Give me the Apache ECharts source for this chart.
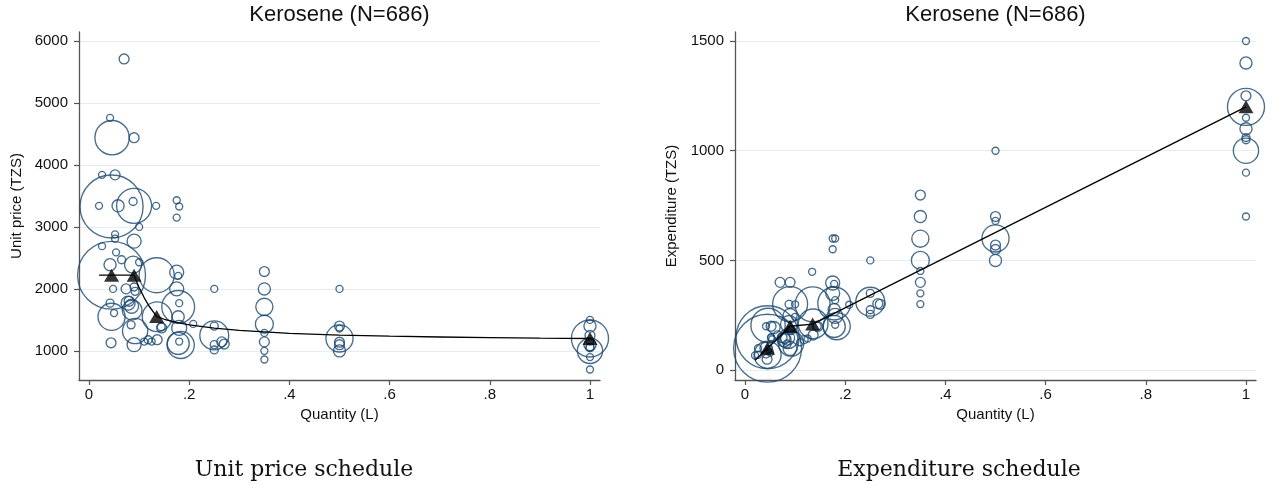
<!DOCTYPE html>
<html>
<head>
<meta charset="utf-8">
<script src="https://cdn.jsdelivr.net/npm/echarts@6/dist/echarts.min.js"></script>
<style>
html,body{margin:0;padding:0;background:#fff;}
#chart{width:1273px;height:486px;}
</style>
</head>
<body>
<div id="chart"></div>
<script>
// ---- data ----
const chartTitle = 'Kerosene (N=686)';
const captions = ['Unit price schedule', 'Expenditure schedule'];
const xTicks = [0, 0.2, 0.4, 0.6, 0.8, 1];
const xTickLabels = ['0', '.2', '.4', '.6', '.8', '1'];
const priceTicks = [1000, 2000, 3000, 4000, 5000, 6000];
const expTicks = [0, 500, 1000, 1500];

// observations: quantity (L), unit price (TZS), expenditure (TZS), frequency weight
const quantity = [
  0.07, 0.042, 0.046, 0.09, 0.026, 0.052, 0.045, 0.09, 0.02, 0.058,
  0.088, 0.134, 0.175, 0.18, 0.175, 0.1, 0.052, 0.052, 0.09, 0.026,
  0.054, 0.045, 0.065, 0.042, 0.088, 0.1, 0.135, 0.175, 0.178, 0.048,
  0.074, 0.09, 0.092, 0.175, 0.25,
  0.35, 0.35, 0.35, 0.35, 0.35, 0.35, 0.35, 0.35,
  0.5, 0.5, 0.5, 0.5, 0.5, 0.5, 0.5,
  1, 1, 1, 1, 1, 1, 1, 1, 1, 1, 1,
  0.045, 0.042, 0.05, 0.044, 0.078, 0.08, 0.086, 0.085, 0.092, 0.09,
  0.084, 0.11, 0.118, 0.125, 0.136, 0.136, 0.144, 0.145,
  0.178, 0.18, 0.178, 0.18, 0.183, 0.178, 0.18, 0.208,
  0.25, 0.25, 0.25, 0.25, 0.265, 0.27
];
const unitPrice = [
  5710, 4760, 4440, 4440, 3840, 3840, 3330, 3340, 3340, 3340,
  3410, 3340, 3430, 3330, 3150, 3000, 2880, 2810, 2770, 2690,
  2590, 2220, 2470, 2390, 2390, 2430, 2220, 2270, 2210, 2000,
  2000, 2030, 1960, 2000, 2000,
  2280, 2000, 1710, 1430, 1290, 1145, 1000, 860,
  2000, 1400, 1360, 1200, 1140, 1100, 1000,
  1500, 1400, 1250, 1200, 1150, 1100, 1060, 1050, 1000, 900, 700,
  1550, 1770, 1610, 1130, 1770, 1800, 1660, 1720, 1320, 1100,
  1420, 1150, 1180, 1150, 1180, 1550, 1390, 1370,
  1710, 1770, 1550, 1370, 1095, 1120, 1150, 1435,
  1250, 1400, 1100, 1015, 1145, 1110
];
const expenditure = [
  400, 200, 204, 400, 100, 200, 150, 301, 67, 194,
  300, 448, 600, 600, 551, 300, 150, 146, 249, 70,
  140, 100, 161, 100, 210, 243, 300, 397, 393, 96,
  148, 183, 180, 350, 500,
  798, 700, 599, 500, 452, 400, 350, 301,
  1000, 700, 680, 600, 570, 550, 500,
  1500, 1400, 1250, 1200, 1150, 1100, 1060, 1050, 1000, 900, 700,
  70, 74, 80, 50, 138, 144, 143, 146, 121, 99,
  119, 127, 139, 144, 160, 211, 200, 199,
  304, 319, 276, 247, 200, 199, 207, 298,
  312, 350, 275, 254, 303, 300
];
const weight = [
  2, 1, 24, 2, 1, 2, 81, 25, 1, 3,
  1.3, 1, 1, 1, 1, 1, 1, 1, 4, 1,
  1, 94, 1.3, 3, 6, 1, 25, 4, 1, 1,
  2, 1.3, 1.3, 4, 1,
  2, 3, 6, 6.6, 1, 2, 1, 1,
  1, 2, 1, 15, 2, 2, 3,
  1, 3, 2, 28, 1, 3, 1.3, 1.3, 13, 1, 1,
  15, 1.3, 1, 2, 4, 2, 8, 4, 13, 4,
  1.3, 1, 1.3, 1, 2, 18, 1.3, 2,
  22, 1, 3, 4.6, 15, 10, 1, 1,
  17, 1.3, 1.3, 1.3, 2, 2
];

// schedules (black lines) and group means (triangles)
const priceLineQ = [0.02, 0.045, 0.09, 0.1, 0.11, 0.12, 0.135, 0.15, 0.175, 0.2, 0.25, 0.3, 0.4, 0.5, 0.6, 0.7, 0.8, 0.9, 1];
const priceLineP = [2222, 2222, 2222, 2020, 1860, 1720, 1556, 1510, 1460, 1420, 1366, 1330, 1283, 1255, 1237, 1224, 1214, 1206, 1200];
const expLineQ = [0.02, 0.045, 0.09, 0.135, 1];
const expLineE = [45, 100, 200, 210, 1200];
const meanQ = [0.045, 0.09, 0.135, 1];
const meanP = [2222, 2222, 1556, 1200];
const meanE = [100, 200, 210, 1200];

// ---- build ----
const navy = '#1a476f';
const axisCol = '#555';
const gridCol = '#e4edf0';
const sans = 'Liberation Sans, Arial, sans-serif';

const zip2 = (a, b) => a.map((v, i) => [v, b[i]]);
const priceObs = quantity.map((q, i) => [q, unitPrice[i], weight[i]]);
const expObs = quantity.map((q, i) => [q, expenditure[i], weight[i]]);

function xAxis(gi) {
  return {
    gridIndex: gi, type: 'value', min: -0.02, max: 1.02,
    name: 'Quantity (L)', nameLocation: 'middle', nameGap: 21,
    nameTextStyle: {fontSize: 15, color: '#111', fontFamily: sans, verticalAlign: 'top'},
    axisLine: {show: true, onZero: false, lineStyle: {color: axisCol, width: 1.3}},
    axisTick: {show: true, length: 5, customValues: xTicks, lineStyle: {color: axisCol, width: 1.2}},
    axisLabel: {customValues: xTicks, fontSize: 15, color: '#111', fontFamily: sans, margin: 7,
      formatter: v => { const k = xTicks.findIndex(t => Math.abs(t - v) < 1e-9); return k >= 0 ? xTickLabels[k] : ''; }},
    splitLine: {show: false}
  };
}
function yAxis(gi, min, max, ticks, name, gap) {
  return {
    gridIndex: gi, type: 'value', min: min, max: max,
    name: name, nameLocation: 'middle', nameGap: gap,
    nameTextStyle: {fontSize: 15, color: '#111', fontFamily: sans},
    axisLine: {show: true, onZero: false, lineStyle: {color: axisCol, width: 1.3}},
    axisTick: {show: true, length: 5, customValues: ticks, lineStyle: {color: axisCol, width: 1.2}},
    axisLabel: {customValues: ticks, fontSize: 15, color: '#111', fontFamily: sans, margin: 11,
      formatter: v => String(Math.round(v))},
    splitLine: {show: false}
  };
}
function gridLineSeries(gi, ticks) {
  return {
    type: 'scatter', xAxisIndex: gi, yAxisIndex: gi, data: [], z: 0, silent: true,
    markLine: {
      silent: true, symbol: 'none', label: {show: false}, z: 0, animation: false,
      lineStyle: {color: gridCol, width: 1.2, type: 'solid'},
      data: ticks.map(t => ({yAxis: t}))
    }
  };
}
function bubbles(gi, data) {
  return {
    type: 'scatter', xAxisIndex: gi, yAxisIndex: gi, data: data, z: 2,
    symbol: 'circle', symbolSize: v => 7 * Math.sqrt(v[2]),
    itemStyle: {color: 'rgba(0,0,0,0)', borderColor: navy, borderWidth: 1.35},
    emphasis: {disabled: true}, silent: true
  };
}
function schedule(gi, data) {
  return {
    type: 'line', xAxisIndex: gi, yAxisIndex: gi, data: data, z: 3,
    symbol: 'none', lineStyle: {color: '#000', width: 1.3}, silent: true
  };
}
function means(gi, data) {
  return {
    type: 'scatter', xAxisIndex: gi, yAxisIndex: gi, data: data, z: 4,
    symbol: 'triangle', symbolSize: [15, 13],
    itemStyle: {color: '#000'}, silent: true
  };
}

const chart = echarts.init(document.getElementById('chart'), null, {renderer: 'canvas'});
chart.setOption({
  animation: false,
  backgroundColor: '#fff',
  grid: [
    {left: 79, top: 32, width: 521, height: 348},
    {left: 735, top: 32, width: 521, height: 348}
  ],
  xAxis: [xAxis(0), xAxis(1)],
  yAxis: [
    yAxis(0, 530, 6145, priceTicks, 'Unit price (TZS)', 55),
    yAxis(1, -45, 1541, expTicks, 'Expenditure (TZS)', 56)
  ],
  graphic: [
    {type: 'text', x: 339.5, y: 15, style: {text: chartTitle, fontSize: 22, fontFamily: sans, fill: '#111', align: 'center', verticalAlign: 'middle'}},
    {type: 'text', x: 995.5, y: 15, style: {text: chartTitle, fontSize: 22, fontFamily: sans, fill: '#111', align: 'center', verticalAlign: 'middle'}},
    {type: 'text', x: 304, y: 470, style: {text: captions[0], fontSize: 22, fontFamily: 'DejaVu Serif, serif', fill: '#111', align: 'center', verticalAlign: 'middle'}},
    {type: 'text', x: 959, y: 470, style: {text: captions[1], fontSize: 22, fontFamily: 'DejaVu Serif, serif', fill: '#111', align: 'center', verticalAlign: 'middle'}}
  ],
  series: [
    gridLineSeries(0, priceTicks),
    bubbles(0, priceObs),
    schedule(0, zip2(priceLineQ, priceLineP)),
    means(0, zip2(meanQ, meanP)),
    gridLineSeries(1, expTicks),
    bubbles(1, expObs),
    schedule(1, zip2(expLineQ, expLineE)),
    means(1, zip2(meanQ, meanE))
  ]
});
</script>
</body>
</html>
